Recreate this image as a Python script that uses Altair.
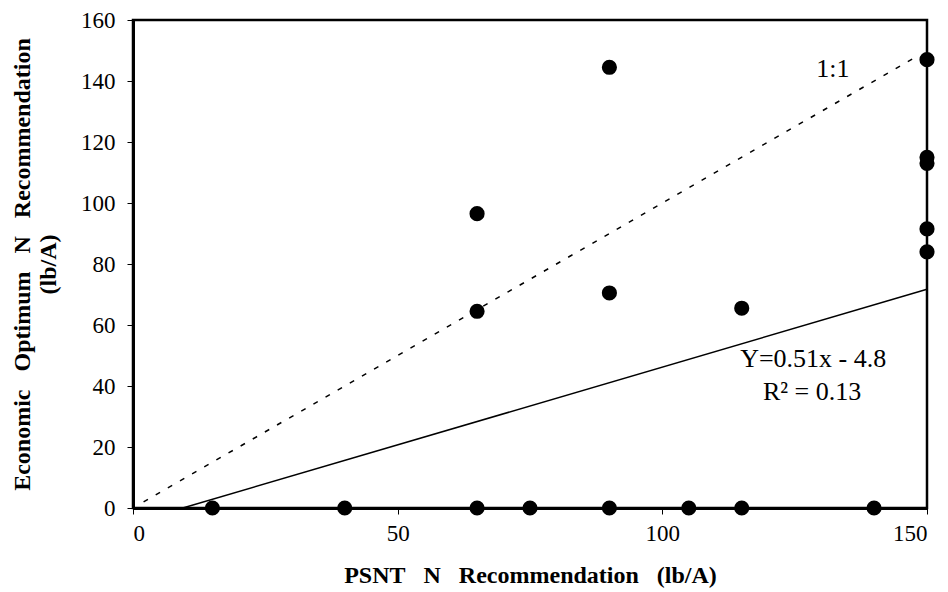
import altair as alt
import pandas as pd

psnt = [15, 40, 65, 75, 90, 105, 115, 140, 65, 65, 90, 90, 115, 150, 150, 150, 150, 150]
eonr = [0, 0, 0, 0, 0, 0, 0, 0, 64.5, 96.5, 70.5, 144.5, 65.5, 147, 115, 113, 91.5, 84]

fit_x = [9.4, 150]
fit_y = [0.51 * v - 4.8 for v in fit_x]
one_x = [2, 148]
one_y = [2, 148]

ann_text = ["1:1", "Y=0.51x - 4.8", "R\u00b2 = 0.13"]
ann_x = [132.2, 128.5, 128.3]
ann_y = [144, 49, 38]

pts = pd.DataFrame({"x": psnt, "y": eonr})
fit = pd.DataFrame({"x": fit_x, "y": fit_y})
one = pd.DataFrame({"x": one_x, "y": one_y})
ann = pd.DataFrame({"x": ann_x, "y": ann_y, "t": ann_text})

FONT = "Liberation Serif"
sp = "\u00a0\u00a0\u00a0"

xs = alt.Scale(domain=[0, 150], nice=False, zero=True)
ys = alt.Scale(domain=[0, 160], nice=False)

xax = alt.Axis(values=[0, 50, 100, 150], title=f"PSNT{sp}N{sp}Recommendation{sp}(lb/A)",
               grid=False, tickSize=6, labelPadding=8, titlePadding=18,
               labelFontSize=23, titleFontSize=24, labelFont=FONT, titleFont=FONT,
               titleFontWeight="bold", domainWidth=3, domainColor="black",
               tickColor="black", labelColor="black", titleColor="black")
yax = alt.Axis(values=list(range(0, 161, 20)),
               title=[f"Economic{sp}Optimum{sp}N{sp}Recommendation", "(lb/A)"],
               grid=False, tickSize=6, labelPadding=12, titlePadding=20,
               labelFontSize=23, titleFontSize=24, labelFont=FONT, titleFont=FONT,
               titleFontWeight="bold", domainWidth=3, domainColor="black",
               tickColor="black", labelColor="black", titleColor="black",
               titleLineHeight=26)

base_x = alt.X("x:Q", scale=xs, axis=xax)
base_y = alt.Y("y:Q", scale=ys, axis=yax)

one_line = alt.Chart(one).mark_line(color="black", strokeDash=[5, 9], strokeWidth=1.5).encode(
    x=base_x, y=base_y)
fit_line = alt.Chart(fit).mark_line(color="black", strokeWidth=1.5).encode(x="x:Q", y="y:Q")
points = alt.Chart(pts).mark_circle(color="black", opacity=1, size=230).encode(x="x:Q", y="y:Q")
texts = alt.Chart(ann).mark_text(font=FONT, fontSize=26, color="black").encode(
    x="x:Q", y="y:Q", text="t:N")

chart = alt.layer(one_line, fit_line, points, texts).properties(
    width=794, height=488,
    autosize=alt.AutoSizeParams(type="none"),
    padding={"left": 133, "top": 20, "right": 21, "bottom": 84},
    background="white",
).configure_view(stroke="black", strokeWidth=2.5)

chart.save("out.html", embed_options={"renderer": "svg", "actions": False})
